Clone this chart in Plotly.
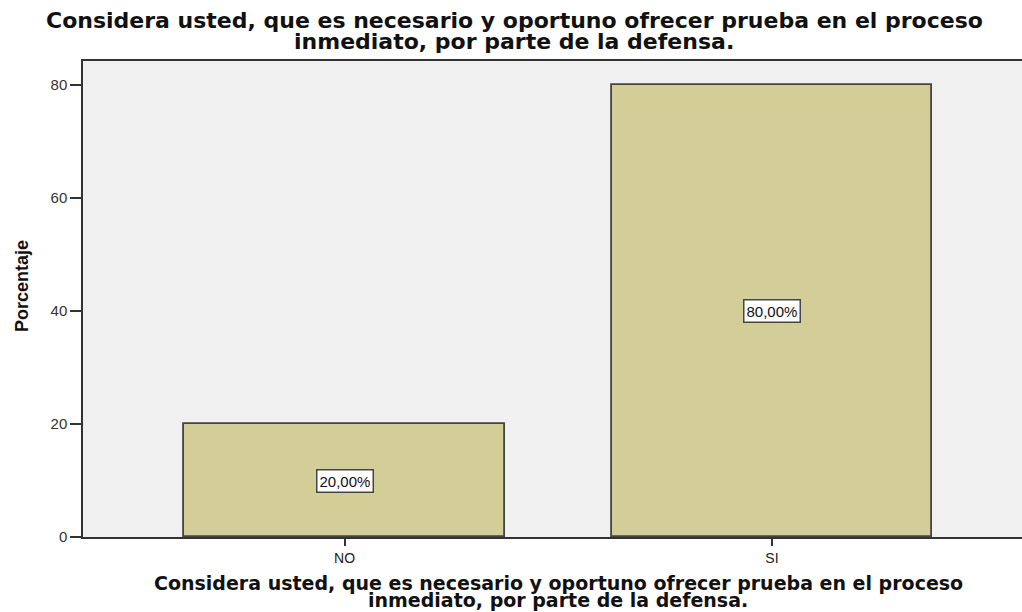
import plotly.graph_objects as go

categories = ["NO", "SI"]
percentages = [20.0, 80.0]
value_labels = ["20,00%", "80,00%"]
y_ticks = [0, 20, 40, 60, 80]

title_lines = ["Considera usted, que es necesario y oportuno ofrecer prueba en el proceso",
               "inmediato, por parte de la defensa."]
x_title_lines = title_lines
y_title = "Porcentaje"

W, H = 1022, 612
L, R, T, B = 83, 0, 61, 75

fig = go.Figure()
fig.add_trace(go.Bar(
    x=categories, y=percentages, width=0.75,
    marker=dict(color="#D3CD97", line=dict(color="#444444", width=1.8)),
    hoverinfo="skip",
))

for c, v, lab in zip(categories, percentages, value_labels):
    fig.add_annotation(x=c, y=v / 2, xref="x", yref="y", text=lab, showarrow=False,
                       font=dict(family="Liberation Sans, Arial", size=15, color="#111"),
                       bgcolor="white", bordercolor="#444", borderwidth=1.5, borderpad=2)


def add_line(text, xc, yc, font):
    # xc, yc: pixel centre of the text within the whole figure (top-left origin)
    px = (xc - L) / (W - L - R)
    py = (H - B - yc) / (H - T - B)
    fig.add_annotation(xref="paper", yref="paper", x=px, y=py, xanchor="center", yanchor="middle",
                       text=text, showarrow=False, font=font)


tfont = dict(family="DejaVu Sans, Verdana", size=22, color="#111", weight="bold")
xfont = dict(family="DejaVu Sans, Verdana", size=19, color="#111", weight="bold")
add_line(title_lines[0], 514, 20, tfont)
add_line(title_lines[1], 514, 42, tfont)
add_line(x_title_lines[0], 558, 583, xfont)
add_line(x_title_lines[1], 558, 600, xfont)

fig.add_annotation(xref="paper", yref="paper", x=(22 - L) / (W - L - R), y=(H - B - 286) / (H - T - B),
                   xanchor="center", yanchor="middle", text=y_title, textangle=-90, showarrow=False,
                   font=dict(family="Liberation Sans Narrow, Arial Narrow, Liberation Sans", size=18,
                             color="#111", weight="bold"))

fig.update_layout(
    width=W, height=H,
    margin=dict(l=L, r=R, t=T, b=B, pad=0),
    paper_bgcolor="white", plot_bgcolor="#F0F0F0",
    showlegend=False, bargap=0,
)
fig.update_xaxes(type="category", range=[-0.612, 1.585], showline=True, linecolor="#333", linewidth=1.5,
                 mirror=True, ticks="outside", ticklen=7, tickcolor="#333", tickwidth=1.5,
                 showgrid=False, zeroline=False,
                 tickfont=dict(family="Liberation Sans, Arial", size=14, color="#222"))
fig.update_yaxes(range=[0, 84.25], tickvals=y_ticks, showline=True, linecolor="#333", linewidth=1.5,
                 ticks="outside", ticklen=11, tickcolor="#333", tickwidth=1.5,
                 showgrid=False, zeroline=False,
                 tickfont=dict(family="Liberation Sans, Arial", size=15, color="#333"))

fig.write_html("out.html", config={"displayModeBar": False},
               post_script="document.body.style.margin='0';document.body.style.overflow='hidden';")
